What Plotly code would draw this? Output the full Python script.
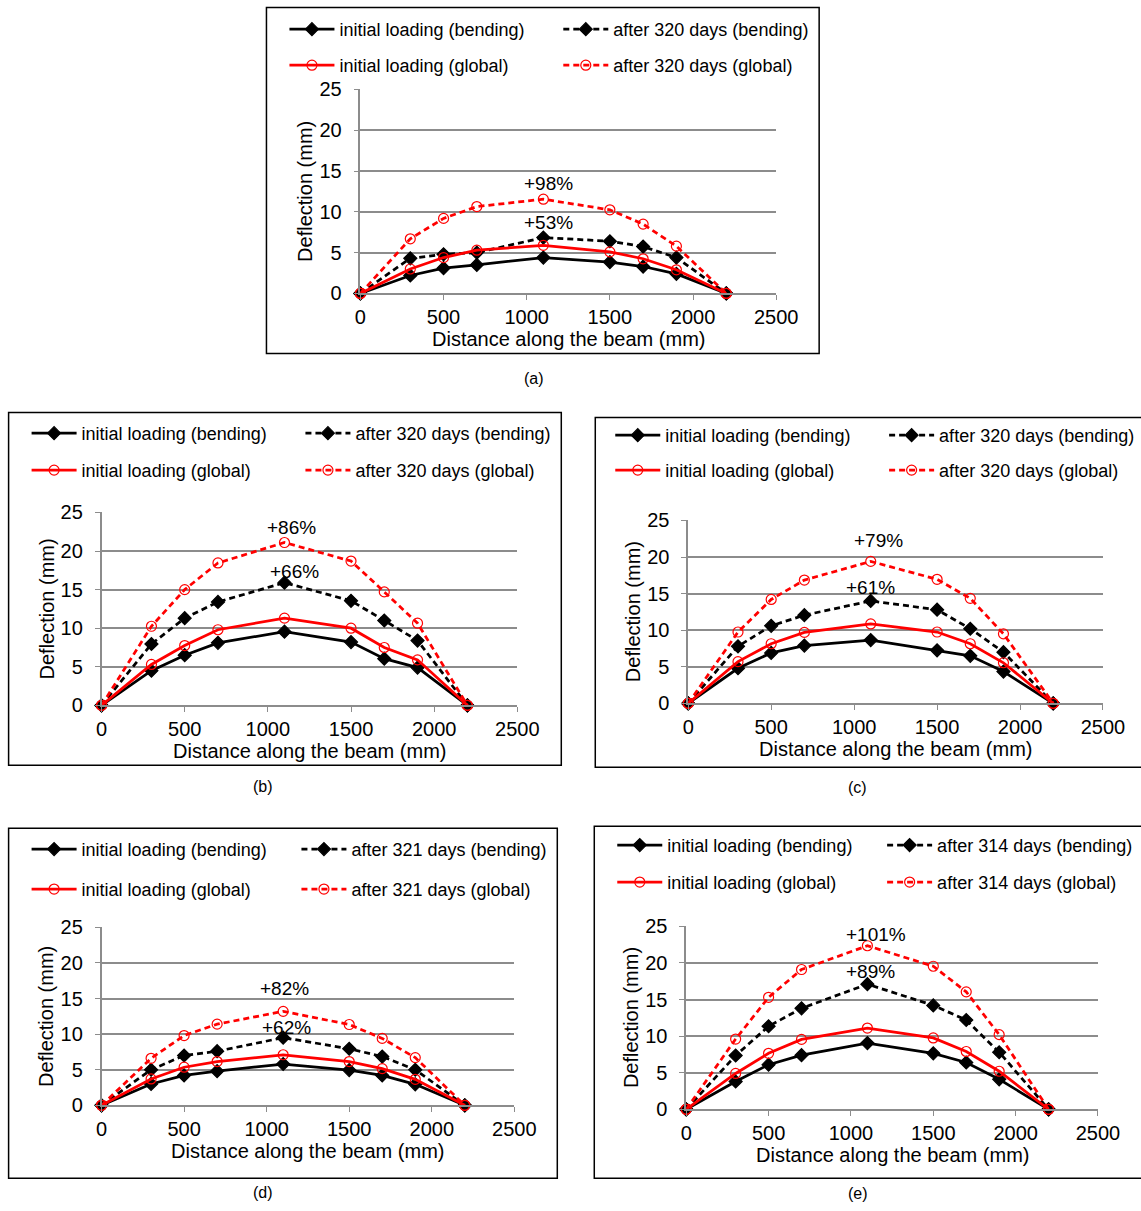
import plotly.graph_objects as go

# ---------------- data ----------------
x_pos = [0, 300, 500, 700, 1100, 1500, 1700, 1900, 2200]
x_ticks = [0, 500, 1000, 1500, 2000, 2500]
y_ticks = [0, 5, 10, 15, 20, 25]

a_init_bend = [0, 2.2, 3.1, 3.5, 4.4, 3.85, 3.3, 2.4, 0]
a_after_bend = [0, 4.3, 4.8, 5.0, 6.85, 6.4, 5.75, 4.4, 0]
a_init_glob = [0, 3.0, 4.4, 5.3, 5.9, 5.1, 4.25, 2.9, 0]
a_after_glob = [0, 6.7, 9.2, 10.65, 11.55, 10.25, 8.5, 5.8, 0]

b_init_bend = [0, 4.5, 6.5, 8.1, 9.55, 8.2, 6.05, 4.9, 0]
b_after_bend = [0, 7.95, 11.3, 13.4, 15.9, 13.55, 11.0, 8.4, 0]
b_init_glob = [0, 5.3, 7.75, 9.8, 11.3, 10.0, 7.5, 5.9, 0]
b_after_glob = [0, 10.25, 15.0, 18.45, 21.1, 18.7, 14.7, 10.65, 0]

c_init_bend = [0, 4.8, 6.9, 7.9, 8.65, 7.25, 6.5, 4.35, 0]
c_after_bend = [0, 7.8, 10.6, 12.05, 14.0, 12.8, 10.2, 7.0, 0]
c_init_glob = [0, 5.7, 8.15, 9.7, 10.85, 9.75, 8.15, 5.55, 0]
c_after_glob = [0, 9.75, 14.2, 16.85, 19.4, 16.95, 14.35, 9.5, 0]

d_init_bend = [0, 3.0, 4.2, 4.8, 5.8, 4.95, 4.2, 2.95, 0]
d_after_bend = [0, 5.0, 7.0, 7.6, 9.5, 7.95, 6.85, 5.0, 0]
d_init_glob = [0, 3.7, 5.35, 6.15, 7.1, 6.15, 5.15, 3.65, 0]
d_after_glob = [0, 6.6, 9.8, 11.4, 13.2, 11.35, 9.4, 6.7, 0]

e_init_bend = [0, 3.8, 6.1, 7.4, 9.05, 7.65, 6.4, 4.1, 0]
e_after_bend = [0, 7.35, 11.35, 13.8, 17.1, 14.2, 12.2, 7.8, 0]
e_init_glob = [0, 4.9, 7.65, 9.55, 11.1, 9.75, 7.9, 5.2, 0]
e_after_glob = [0, 9.6, 15.3, 19.1, 22.35, 19.55, 16.05, 10.2, 0]

panel_letters = ["(a)", "(b)", "(c)", "(d)", "(e)"]
panel_days = [320, 320, 320, 321, 314]
glob_pct = ["+98%", "+86%", "+79%", "+82%", "+101%"]
bend_pct = ["+53%", "+66%", "+61%", "+62%", "+89%"]

series = [
    (a_init_bend, a_after_bend, a_init_glob, a_after_glob),
    (b_init_bend, b_after_bend, b_init_glob, b_after_glob),
    (c_init_bend, c_after_bend, c_init_glob, c_after_glob),
    (d_init_bend, d_after_bend, d_init_glob, d_after_glob),
    (e_init_bend, e_after_bend, e_init_glob, e_after_glob),
]

# ---------------- layout geometry (pixels) ----------------
W, H = 1141, 1211
geo = [
    dict(box=(266, 7, 819, 353), px=(360, 776), py=(293, 89), rows=(29, 65), cols=(288, 562), lab=(534, 368),
         glob_txt=(1130, 13.5), bend_txt=(1130, 8.7)),
    dict(box=(8, 412, 561, 765), px=(101, 517), py=(705, 512), rows=(433, 470), cols=(30, 304), lab=(251, 786),
         glob_txt=(1142, 23.0), bend_txt=(1160, 17.4)),
    dict(box=(595, 417, 1160, 767), px=(688, 1103), py=(703, 520), rows=(435, 470), cols=(614, 888), lab=(869, 787),
         glob_txt=(1145, 22.3), bend_txt=(1100, 15.85)),
    dict(box=(8, 828, 557, 1178), px=(101, 514), py=(1105, 927), rows=(849, 889), cols=(30, 300), lab=(251, 1203),
         glob_txt=(1108, 16.4), bend_txt=(1120, 10.95)),
    dict(box=(594, 826, 1160, 1178), px=(686, 1098), py=(1109, 926), rows=(845, 882), cols=(616, 886), lab=(870, 1204),
         glob_txt=(1153, 23.9), bend_txt=(1120, 18.85)),
]

FONT = "Liberation Sans, Arial, sans-serif"
GRID = "#8c8c8c"


def sx(px):
    return (px - 5.4) / 0.976


def sy(py):
    return (py - 10.5) / 0.982


def fx(px):
    return sx(px) / W


def fy(py):
    return 1 - sy(py) / H


fig = go.Figure()
layout = dict(
    width=W, height=H, margin=dict(l=0, r=0, t=0, b=0),
    paper_bgcolor="white", plot_bgcolor="white",
    font=dict(family=FONT, size=20, color="black"),
    shapes=[], annotations=[],
)

styles = [
    dict(color="black", dash="solid", symbol="diamond", msize=10, lname="initial loading (bending)"),
    dict(color="black", dash="6px,4px", symbol="diamond", msize=10, lname="after {d} days (bending)"),
    dict(color="#ff0000", dash="solid", symbol="circle-open", msize=10, lname="initial loading (global)"),
    dict(color="#ff0000", dash="6px,4px", symbol="circle-open", msize=10, lname="after {d} days (global)"),
]
# legend column / row for each series
legend_slot = [(0, 0), (1, 0), (0, 1), (1, 1)]

leg_idx = 0
for i, g in enumerate(geo):
    n = "" if i == 0 else str(i + 1)
    xa_key, ya_key = "xaxis" + n, "yaxis" + n
    xref, yref = "x" + n, "y" + n

    layout[xa_key] = dict(
        domain=[fx(g["px"][0]), fx(g["px"][1])], range=[0, 2500], anchor=yref,
        tickvals=x_ticks, ticks="outside", ticklen=5, tickcolor=GRID, tickwidth=1,
        showline=True, linecolor=GRID, linewidth=1.5, showgrid=False, zeroline=False,
        tickfont=dict(size=20, family=FONT, color="black"), fixedrange=True,
    )
    layout[ya_key] = dict(
        domain=[fy(g["py"][0]), fy(g["py"][1])], range=[0, 25], anchor=xref,
        tickvals=y_ticks, ticks="outside", ticklen=5, tickcolor=GRID, tickwidth=1,
        showline=True, linecolor=GRID, linewidth=1.5, showgrid=True, gridcolor=GRID, gridwidth=1.5,
        zeroline=False, ticklabelstandoff=8,
        tickfont=dict(size=20, family=FONT, color="black"), fixedrange=True,
    )

    for s_idx, (vals, st) in enumerate(zip(series[i], styles)):
        leg_idx += 1
        lkey = "legend" if leg_idx == 1 else "legend" + str(leg_idx)
        col, row = legend_slot[s_idx]
        fig.add_trace(go.Scatter(
            x=x_pos, y=vals, mode="lines+markers",
            name=st["lname"].format(d=panel_days[i]),
            line=dict(color=st["color"], width=2.75, dash=st["dash"]),
            marker=dict(symbol=st["symbol"], size=st["msize"], color=st["color"],
                        line=dict(color=st["color"], width=1.2)),
            xaxis=xref, yaxis=yref, legend=lkey, showlegend=True, cliponaxis=False,
        ))
        layout[lkey] = dict(
            x=fx(g["cols"][col] - 4), y=fy(g["rows"][row]), xanchor="left", yanchor="middle",
            bgcolor="rgba(0,0,0,0)", borderwidth=0, itemwidth=45,
            font=dict(size=18, family=FONT, color="black"), itemclick=False, itemdoubleclick=False,
        )

    # frame
    x0, y0, x1, y1 = g["box"]
    layout["shapes"].append(dict(type="rect", xref="paper", yref="paper",
                                 x0=fx(x0), x1=fx(x1), y0=fy(y1), y1=fy(y0),
                                 line=dict(color="black", width=1.5), fillcolor="rgba(0,0,0,0)", layer="below"))
    # axis titles
    xmid = (g["px"][0] + g["px"][1]) / 2
    ymid = (g["py"][0] + g["py"][1]) / 2
    layout["annotations"].append(dict(text="Distance along the beam (mm)", xref="paper", yref="paper",
                                      x=fx(xmid), y=fy(g["py"][0] + 46), showarrow=False,
                                      xanchor="center", yanchor="middle", font=dict(size=20)))
    layout["annotations"].append(dict(text="Deflection (mm)", xref="paper", yref="paper",
                                      x=fx(g["px"][0] - 55), y=fy(ymid), showarrow=False, textangle=-90,
                                      xanchor="center", yanchor="middle", font=dict(size=20)))
    # percentage labels
    layout["annotations"].append(dict(text=glob_pct[i], xref=xref, yref=yref, x=g["glob_txt"][0], y=g["glob_txt"][1],
                                      showarrow=False, font=dict(size=19)))
    layout["annotations"].append(dict(text=bend_pct[i], xref=xref, yref=yref, x=g["bend_txt"][0], y=g["bend_txt"][1],
                                      showarrow=False, font=dict(size=19)))
    # panel letter
    layout["annotations"].append(dict(text=panel_letters[i], xref="paper", yref="paper",
                                      x=fx(g["lab"][0]), y=fy(g["lab"][1]), showarrow=False, font=dict(size=16)))

fig.update_layout(**layout)
fig.write_html(
    "out.html",
    config={"displayModeBar": False},
    post_script="document.body.style.margin='0';document.body.style.padding='0';"
                "document.body.style.overflow='hidden';",
)
